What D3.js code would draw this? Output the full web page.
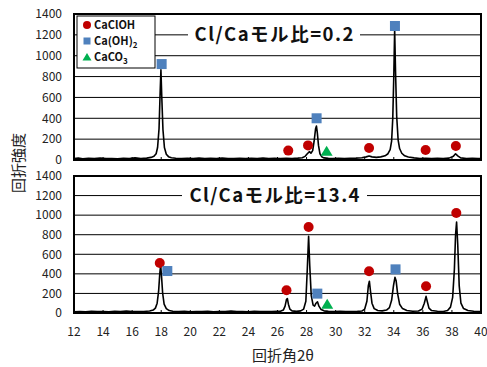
<!DOCTYPE html>
<html>
<head>
<meta charset="utf-8">
<script src="https://d3js.org/d3.v7.min.js"></script>
<style>
  body { margin: 0; background: #fff; }
  svg { display: block; font-family: "Noto Sans CJK JP", "DejaVu Sans", sans-serif; }
</style>
</head>
<body>
<div id="chart"></div>
<script>
// --- data ---
const xTicks = [12, 14, 16, 18, 20, 22, 24, 26, 28, 30, 32, 34, 36, 38, 40];
const yTicks = [0, 200, 400, 600, 800, 1000, 1200, 1400];

// Cl/Ca = 0.2 pattern [2θ, counts]
const pattern02 = [
  [12.0, 14], [12.3, 18], [12.6, 12], [13.0, 16], [13.4, 13], [13.8, 19], [14.2, 14], [14.6, 15],
  [15.0, 12], [15.4, 17], [15.8, 14], [16.2, 20], [16.6, 15], [17.0, 18], [17.3, 25], [17.5, 35],
  [17.65, 60], [17.75, 120], [17.85, 300], [17.92, 620], [17.98, 865], [18.04, 600], [18.12, 290],
  [18.22, 120], [18.35, 55], [18.5, 32], [18.7, 22], [19.0, 17], [19.4, 14], [19.8, 16], [20.2, 13],
  [20.6, 18], [21.0, 14], [21.4, 16], [21.8, 13], [22.2, 19], [22.6, 15], [23.0, 14], [23.4, 17],
  [23.8, 13], [24.2, 16], [24.6, 15], [25.0, 18], [25.4, 14], [25.8, 16], [26.2, 13], [26.6, 17],
  [27.0, 15], [27.4, 18], [27.7, 22], [27.9, 35], [28.05, 60], [28.2, 80], [28.3, 65], [28.42, 90],
  [28.52, 180], [28.62, 300], [28.68, 325], [28.74, 260], [28.82, 140], [28.92, 60], [29.05, 30],
  [29.2, 20], [29.5, 16], [29.8, 14], [30.2, 17], [30.6, 14], [31.0, 16], [31.4, 18], [31.8, 22],
  [32.1, 30], [32.3, 38], [32.5, 30], [32.8, 25], [33.1, 30], [33.4, 40], [33.6, 60], [33.75, 100],
  [33.85, 180], [33.93, 400], [34.0, 800], [34.06, 1250], [34.12, 850], [34.2, 420], [34.3, 190],
  [34.4, 110], [34.55, 65], [34.75, 40], [35.0, 28], [35.4, 20], [35.8, 15], [36.2, 17], [36.6, 14],
  [37.0, 16], [37.4, 13], [37.8, 18], [38.1, 35], [38.25, 60], [38.4, 40], [38.6, 20], [39.0, 14],
  [39.4, 16], [39.8, 13], [40.0, 15]
];

// Cl/Ca = 13.4 pattern [2θ, counts]
const pattern134 = [
  [12.0, 12], [12.4, 16], [12.8, 13], [13.2, 18], [13.6, 14], [14.0, 15], [14.4, 13], [14.8, 17],
  [15.2, 14], [15.6, 19], [16.0, 14], [16.4, 16], [16.8, 15], [17.2, 20], [17.45, 30], [17.6, 50],
  [17.72, 100], [17.82, 220], [17.9, 400], [17.96, 490], [18.02, 380], [18.1, 200], [18.2, 90],
  [18.35, 45], [18.55, 25], [18.8, 18], [19.2, 15], [19.6, 17], [20.0, 13], [20.4, 16], [20.8, 14],
  [21.2, 18], [21.6, 13], [22.0, 16], [22.4, 15], [22.8, 19], [23.2, 14], [23.6, 16], [24.0, 13],
  [24.4, 17], [24.8, 14], [25.2, 16], [25.6, 15], [26.0, 17], [26.2, 18], [26.4, 30], [26.52, 70],
  [26.62, 140], [26.68, 148], [26.75, 90], [26.85, 40], [27.0, 22], [27.3, 17], [27.6, 22],
  [27.8, 40], [27.95, 120], [28.05, 450], [28.14, 785], [28.22, 480], [28.32, 180], [28.45, 80],
  [28.55, 70], [28.65, 100], [28.75, 115], [28.85, 70], [29.0, 35], [29.2, 22], [29.5, 17],
  [29.9, 15], [30.3, 18], [30.7, 14], [31.1, 16], [31.5, 17], [31.8, 20], [32.0, 40], [32.15, 120],
  [32.25, 280], [32.32, 325], [32.4, 220], [32.5, 100], [32.65, 45], [32.9, 25], [33.2, 22],
  [33.5, 30], [33.7, 55], [33.85, 130], [33.98, 280], [34.08, 365], [34.16, 330], [34.26, 200],
  [34.4, 90], [34.6, 45], [34.9, 25], [35.3, 18], [35.7, 20], [35.95, 40], [36.1, 100], [36.22, 170],
  [36.3, 120], [36.42, 50], [36.6, 25], [37.0, 18], [37.4, 16], [37.7, 25], [37.9, 60], [38.05, 160],
  [38.17, 450], [38.25, 800], [38.32, 930], [38.4, 700], [38.5, 280], [38.62, 100], [38.8, 45],
  [39.1, 25], [39.5, 18], [40.0, 15]
];

// phase markers [2θ, counts, phase]
const markers02 = [
  [18.03, 920, "sq"], [28.69, 400, "sq"], [34.08, 1285, "sq"],
  [26.74, 90, "ci"], [28.1, 140, "ci"], [32.3, 115, "ci"], [36.19, 96, "ci"], [38.27, 134, "ci"],
  [29.38, 85, "tr"]
];
const markers134 = [
  [17.9, 511, "ci"], [26.62, 232, "ci"], [28.14, 879, "ci"], [32.3, 426, "ci"], [36.22, 273, "ci"], [38.3, 1022, "ci"],
  [18.42, 429, "sq"], [28.74, 198, "sq"], [34.12, 446, "sq"],
  [29.42, 89, "tr"]
];

const panelTitles = ["Cl/Caモル比=0.2", "Cl/Caモル比=13.4"];

// --- layout ---
const W = 487, H = 367;
const left = 74, right = 481;
const colors = { ci: "#C00000", sq: "#4F81BD", tr: "#00B050" };

const svg = d3.select("#chart").append("svg")
  .attr("width", W).attr("height", H);

const x = d3.scaleLinear().domain([12, 40]).range([left, right]);

const panels = [
  { top: 14, bottom: 160, data: pattern02, marks: markers02, title: panelTitles[0], gap: [188, 360], tw: 159 },
  { top: 176, bottom: 313, data: pattern134, marks: markers134, title: panelTitles[1], gap: [182, 367], tw: 170 }
];

function drawMarker(g, type, cx, cy) {
  if (type === "ci") {
    g.append("circle").attr("cx", cx).attr("cy", cy).attr("r", 5).attr("fill", colors.ci);
  } else if (type === "sq") {
    g.append("rect").attr("x", cx - 5).attr("y", cy - 5).attr("width", 10).attr("height", 10).attr("fill", colors.sq);
  } else {
    g.append("path").attr("d", `M${cx},${cy - 5.5}L${cx + 6},${cy + 4.5}L${cx - 6},${cy + 4.5}Z`).attr("fill", colors.tr);
  }
}

panels.forEach((p, i) => {
  const y = d3.scaleLinear().domain([0, 1400]).range([p.bottom, p.top]);
  const g = svg.append("g");

  // gridlines
  g.append("g").selectAll("line").data(yTicks.slice(1, -1)).join("line")
    .attr("x1", left).attr("x2", right)
    .attr("y1", d => y(d)).attr("y2", d => y(d))
    .attr("stroke", "#000").attr("stroke-width", 1);

  // y tick labels
  g.append("g").attr("transform", `translate(${left},0)`)
    .call(d3.axisLeft(y).tickValues(yTicks).tickFormat(d3.format("d")).tickSize(0).tickPadding(12))
    .call(a => a.select(".domain").remove())
    .selectAll("text")
    .attr("font-size", 12).attr("fill", "#222")
    .attr("font-family", "'Noto Sans CJK JP', sans-serif");

  // x ticks inward
  g.append("g").selectAll("line").data(xTicks).join("line")
    .attr("x1", d => x(d)).attr("x2", d => x(d))
    .attr("y1", p.bottom).attr("y2", p.bottom - 3)
    .attr("stroke", "#000").attr("stroke-width", 1);

  // pattern
  const clipId = "clip" + i;
  svg.append("clipPath").attr("id", clipId).append("rect")
    .attr("x", left).attr("y", p.top).attr("width", right - left).attr("height", p.bottom - p.top);
  g.append("path").datum(p.data)
    .attr("clip-path", `url(#${clipId})`)
    .attr("d", d3.line().x(d => x(d[0])).y(d => y(d[1])))
    .attr("fill", "none").attr("stroke", "#000").attr("stroke-width", 1.6)
    .attr("stroke-linejoin", "round");

  // markers
  p.marks.forEach(m => drawMarker(g, m[2], x(m[0]), y(m[1])));

  // title with white background
  g.append("rect").attr("x", p.gap[0]).attr("y", y(1200) - 12)
    .attr("width", p.gap[1] - p.gap[0]).attr("height", 22).attr("fill", "#fff");
  g.append("text")
    .attr("x", (p.gap[0] + p.gap[1]) / 2).attr("y", y(1200) + 6.5)
    .attr("text-anchor", "middle")
    .attr("font-size", 18.5).attr("font-weight", "bold").attr("fill", "#111")
    .attr("textLength", p.tw).attr("lengthAdjust", "spacing")
    .text(p.title);

  // frame
  g.append("rect").attr("x", left).attr("y", p.top)
    .attr("width", right - left).attr("height", p.bottom - p.top)
    .attr("fill", "none").attr("stroke", "#000").attr("stroke-width", 2);
});

// x tick labels
svg.append("g").selectAll("text").data(xTicks).join("text")
  .attr("x", d => x(d)).attr("y", 336)
  .attr("text-anchor", "middle").attr("font-size", 12).attr("fill", "#222")
  .text(d => d);

// axis titles
svg.append("text").attr("x", 283).attr("y", 361)
  .attr("text-anchor", "middle").attr("font-size", 15).attr("fill", "#222")
  .text("回折角2θ");
svg.append("text")
  .attr("transform", "translate(24,163) rotate(-90)")
  .attr("text-anchor", "middle").attr("font-size", 15).attr("fill", "#222")
  .text("回折強度");

// legend
const lg = svg.append("g").attr("transform", "translate(77,16)");
lg.append("rect").attr("width", 78).attr("height", 52)
  .attr("fill", "#fff").attr("stroke", "#000").attr("stroke-width", 1);
const legendItems = [
  { type: "ci", label: "CaClOH", sub: "" },
  { type: "sq", label: "Ca(OH)", sub: "2" },
  { type: "tr", label: "CaCO", sub: "3" }
];
legendItems.forEach((it, k) => {
  const cy = 9 + k * 16;
  if (it.type === "ci") lg.append("circle").attr("cx", 10).attr("cy", cy).attr("r", 4).attr("fill", colors.ci);
  else if (it.type === "sq") lg.append("rect").attr("x", 6.5).attr("y", cy - 3.5).attr("width", 7).attr("height", 7).attr("fill", colors.sq);
  else lg.append("path").attr("d", `M10,${cy - 4}L14.5,${cy + 3.5}L5.5,${cy + 3.5}Z`).attr("fill", colors.tr);
  const t = lg.append("text").attr("x", 17).attr("y", cy + 4)
    .attr("font-size", 11).attr("font-weight", "bold").attr("fill", "#111")
    .text(it.label);
  if (it.sub) t.append("tspan").attr("font-size", 8).attr("dy", 3).text(it.sub);
});
</script>
</body>
</html>
